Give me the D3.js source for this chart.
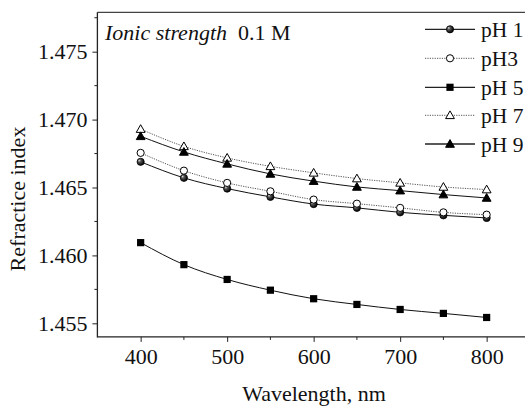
<!DOCTYPE html>
<html><head><meta charset="utf-8">
<script src="https://cdn.jsdelivr.net/npm/d3@7"></script>
<style>body{margin:0;background:#fff}svg{display:block}text{font-family:"Liberation Serif","Times New Roman",serif;fill:#111}</style>
</head><body>
<script>
const wavelengths = [400,450,500,550,600,650,700,750,800];
const pH1 = [1.46689,1.46571,1.46492,1.46431,1.46378,1.46350,1.46317,1.46295,1.46276];
const pH3 = [1.46755,1.46624,1.46534,1.46472,1.46411,1.46381,1.46350,1.46317,1.46300];
const pH5 = [1.46094,1.45932,1.45823,1.45744,1.45681,1.45639,1.45602,1.45573,1.45543];
const pH7 = [1.46930,1.46803,1.46718,1.46656,1.46608,1.46566,1.46534,1.46504,1.46485];
const pH9 = [1.46877,1.46762,1.46674,1.46600,1.46547,1.46504,1.46477,1.46448,1.46423];
const seriesNames = ["pH 1","pH3","pH 5","pH 7","pH 9"];
const xTicks = [400,500,600,700,800];
const xMinor = [450,550,650,750];
const yTicks = [1.455,1.460,1.465,1.470,1.475];
const yMinor = [1.4575,1.4625,1.4675,1.4725,1.4775];

const series = [
  {name:seriesNames[0], values:pH1, marker:"sphere", dash:null},
  {name:seriesNames[1], values:pH3, marker:"opencircle", dash:"1.2,1.2"},
  {name:seriesNames[2], values:pH5, marker:"square", dash:null},
  {name:seriesNames[3], values:pH7, marker:"opentri", dash:"1.2,1.2"},
  {name:seriesNames[4], values:pH9, marker:"tri", dash:null}
];

const W=525,H=406;
const svg=d3.select("body").append("svg").attr("width",W).attr("height",H);
const defs=svg.append("defs");
const g0=defs.append("radialGradient").attr("id","sph").attr("cx","0.4").attr("cy","0.4").attr("r","0.6").attr("fx","0.3").attr("fy","0.3");
g0.append("stop").attr("offset","0%").attr("stop-color","#ddd");
g0.append("stop").attr("offset","35%").attr("stop-color","#555");
g0.append("stop").attr("offset","100%").attr("stop-color","#000");

const x=d3.scaleLinear().domain([350,850]).range([97.4,97.4+500*0.865]);
const y=d3.scaleLinear().domain([1.454,1.4779]).range([336.9,12.3]);

// frame: top line
svg.append("line").attr("x1",x(350)).attr("x2",W).attr("y1",y(1.4779)).attr("y2",y(1.4779)).attr("stroke","#444").attr("stroke-width",1.3);

const fs=22;
// x axis
const xa=svg.append("g").attr("transform",`translate(0,${y(1.454)})`)
  .call(d3.axisBottom(x).tickValues(xTicks).tickSize(5).tickPadding(6).tickFormat(d3.format("d")));
xa.select(".domain").remove();
xa.selectAll("line").attr("stroke","#222");
xa.selectAll("text").attr("font-size",fs).attr("font-family","Liberation Serif").attr("fill","#111");
svg.append("g").attr("transform",`translate(0,${y(1.454)})`)
  .selectAll("line").data(xMinor).join("line").attr("x1",d=>x(d)).attr("x2",d=>x(d)).attr("y1",0).attr("y2",3).attr("stroke","#222");
svg.append("line").attr("x1",x(350)).attr("x2",W).attr("y1",y(1.454)).attr("y2",y(1.454)).attr("stroke","#222").attr("stroke-width",1.3);

// y axis
const ya=svg.append("g").attr("transform",`translate(${x(350)},0)`)
  .call(d3.axisLeft(y).tickValues(yTicks).tickSize(5).tickPadding(5).tickFormat(d3.format(".3f")));
ya.select(".domain").remove();
ya.selectAll("line").attr("stroke","#222");
ya.selectAll("text").attr("font-size",fs).attr("font-family","Liberation Serif").attr("fill","#111");
svg.append("g").attr("transform",`translate(${x(350)},0)`)
  .selectAll("line").data(yMinor).join("line").attr("y1",d=>y(d)).attr("y2",d=>y(d)).attr("x1",0).attr("x2",-3).attr("stroke","#222");
svg.append("line").attr("x1",x(350)).attr("x2",x(350)).attr("y1",y(1.4779)).attr("y2",y(1.454)+0.6).attr("stroke","#222").attr("stroke-width",1.3);

// titles
svg.append("text").attr("x",314).attr("y",401).attr("text-anchor","middle").attr("font-size",fs).text("Wavelength, nm");
svg.append("text").attr("transform","translate(25,199) rotate(-90)").attr("text-anchor","middle").attr("font-size",fs).text("Refractice index");
const ann=svg.append("text").attr("x",105).attr("y",40).attr("font-size",fs);
ann.append("tspan").attr("font-style","italic").text("Ionic strength");
ann.append("tspan").attr("dx",11).text("0.1 M");

function drawMarker(sel,type,cx,cy){
  const s=3.6;
  if(type==="sphere") sel.append("circle").attr("cx",cx).attr("cy",cy).attr("r",s).attr("fill","url(#sph)").attr("stroke","#000").attr("stroke-width",0.8);
  else if(type==="opencircle") sel.append("circle").attr("cx",cx).attr("cy",cy).attr("r",s).attr("fill","#fff").attr("stroke","#000").attr("stroke-width",1);
  else if(type==="square") sel.append("rect").attr("x",cx-s).attr("y",cy-s).attr("width",2*s).attr("height",2*s).attr("fill","#000");
  else {
    const h=4.4;
    const pts=[[cx,cy-h],[cx+h,cy+h*0.75],[cx-h,cy+h*0.75]];
    sel.append("polygon").attr("points",pts.map(p=>p.join(",")).join(" "))
      .attr("fill",type==="tri"?"#000":"#fff").attr("stroke","#000").attr("stroke-width",1);
  }
}

const line=d3.line().x((d,i)=>x(wavelengths[i])).y(d=>y(d)).curve(d3.curveMonotoneX);
series.forEach(s=>{
  svg.append("path").attr("d",line(s.values)).attr("fill","none")
    .attr("stroke",s.dash?"#555":"#111").attr("stroke-width",1).attr("stroke-dasharray",s.dash);
});
series.forEach(s=>{
  const g=svg.append("g");
  s.values.forEach((v,i)=>drawMarker(g,s.marker,x(wavelengths[i]),y(v)));
});

// legend
const rows=[29.3,58.3,87.3,115.3,144];
series.forEach((s,i)=>{
  const ry=rows[i];
  const g=svg.append("g");
  g.append("line").attr("x1",425).attr("x2",475).attr("y1",ry).attr("y2",ry)
    .attr("stroke",s.dash?"#555":"#222").attr("stroke-width",s.dash?1:1.3).attr("stroke-dasharray",s.dash);
  drawMarker(g,s.marker,450,ry);
  g.append("text").attr("x",481).attr("y",ry+8).attr("font-size",21.5).text(s.name);
});
</script>
</body></html>
